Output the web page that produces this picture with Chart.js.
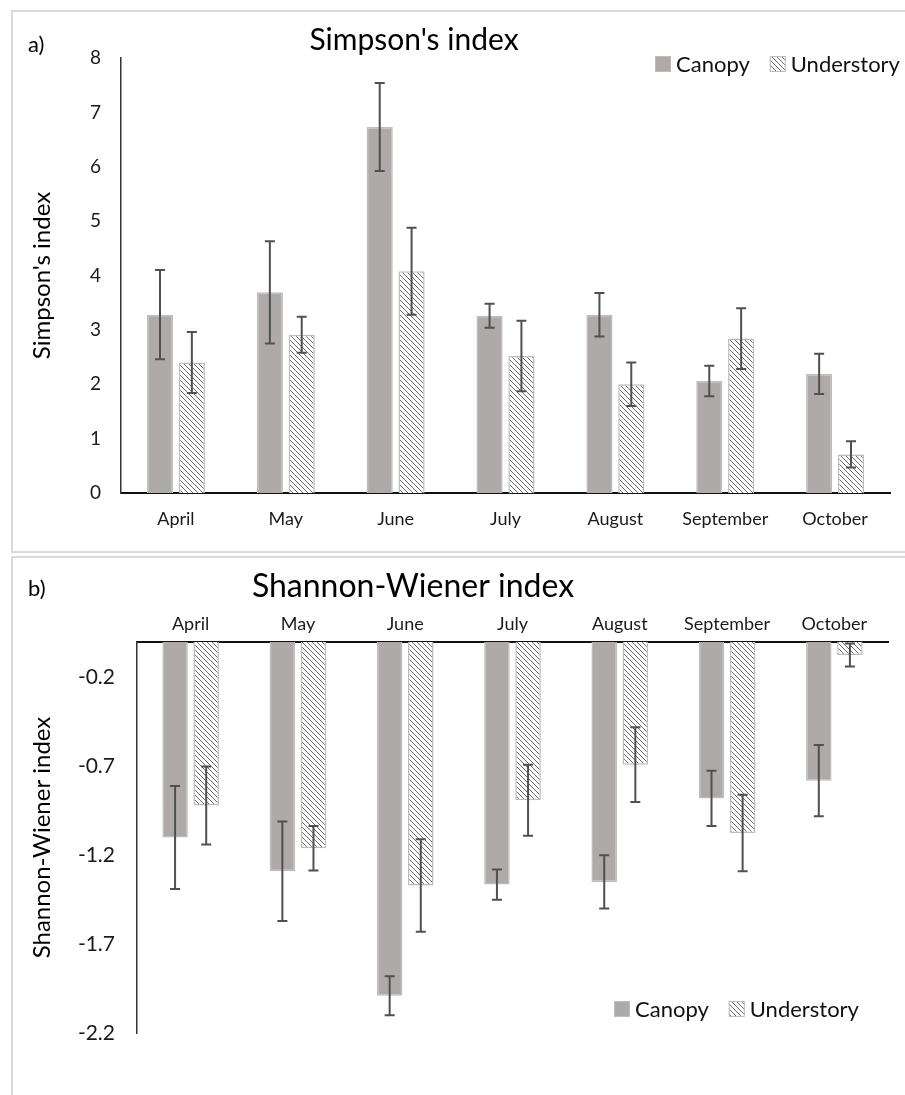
<!DOCTYPE html>
<html>
<head>
<meta charset="utf-8">
<script src="https://cdn.jsdelivr.net/npm/chart.js@4.4.0/dist/chart.umd.min.js"></script>
<style>
  body { margin: 0; background: #fff; width: 905px; height: 1095px; position: relative; overflow: hidden; }
  .panel { position: absolute; border: 2px solid #d9d9d9; box-sizing: border-box; }
  #panelA { left: 11px; top: 10px; width: 920px; height: 543px; }
  #panelB { left: 11px; top: 556px; width: 920px; height: 560px; }
  canvas { position: absolute; left: 0; }
  #chartA { top: 0; }
  #chartB { top: 555px; }
</style>
</head>
<body>
<div class="panel" id="panelA"></div>
<div class="panel" id="panelB"></div>
<canvas id="chartA" width="905" height="555"></canvas>
<canvas id="chartB" width="905" height="540"></canvas>
<script>
// months
const months = ['April', 'May', 'June', 'July', 'August', 'September', 'October'];

// a) Simpson's index
const simpsonCanopy = [3.28, 3.69, 6.73, 3.26, 3.28, 2.06, 2.19];
const simpsonCanopyErr = [0.82, 0.94, 0.81, 0.22, 0.40, 0.28, 0.37];
const simpsonUnder = [2.40, 2.91, 4.08, 2.52, 2.00, 2.84, 0.71];
const simpsonUnderErr = [0.56, 0.33, 0.80, 0.65, 0.40, 0.56, 0.24];
const simpsonTicks = [0, 1, 2, 3, 4, 5, 6, 7, 8];

// b) Shannon-Wiener index
const shannonCanopy = [-1.10, -1.29, -1.99, -1.365, -1.35, -0.88, -0.78];
const shannonCanopyErr = [0.29, 0.28, 0.11, 0.085, 0.15, 0.155, 0.20];
const shannonUnder = [-0.92, -1.16, -1.37, -0.89, -0.69, -1.075, -0.073];
const shannonUnderErr = [0.22, 0.125, 0.26, 0.20, 0.21, 0.215, 0.065];
const shannonTicks = [-2.2, -1.7, -1.2, -0.7, -0.2];

const FONT = 'Lato';
const canopyFill = '#aeaaaa';
const canopyLine = '#bfbcbc';
const underLine = '#bdbdbd';

function hatchFor(canvasId) {
  const n = 5;
  const c = document.createElement('canvas');
  c.width = n; c.height = n;
  const g = c.getContext('2d');
  g.fillStyle = '#fff';
  g.fillRect(0, 0, n, n);
  g.strokeStyle = '#6a6a6a';
  g.lineWidth = 1;
  g.beginPath();
  g.moveTo(0, 0); g.lineTo(n, n);
  g.moveTo(-n, 0); g.lineTo(n, 2 * n);
  g.moveTo(0, -n); g.lineTo(2 * n, n);
  g.stroke();
  return document.getElementById(canvasId).getContext('2d').createPattern(c, 'repeat');
}

// error bars drawn from each bar's position and the y scale
const errorBars = {
  id: 'errorBars',
  afterDatasetsDraw(chart) {
    const ctx = chart.ctx, y = chart.scales.y;
    chart.data.datasets.forEach((ds, d) => {
      chart.getDatasetMeta(d).data.forEach((bar, i) => {
        const v = ds.data[i], e = ds.errors[i];
        const t = y.getPixelForValue(v + e), b = y.getPixelForValue(v - e);
        ctx.save();
        ctx.strokeStyle = '#505050';
        ctx.lineWidth = 2;
        ctx.beginPath();
        ctx.moveTo(bar.x, t); ctx.lineTo(bar.x, b);
        ctx.moveTo(bar.x - 5, t); ctx.lineTo(bar.x + 5, t);
        ctx.moveTo(bar.x - 5, b); ctx.lineTo(bar.x + 5, b);
        ctx.stroke();
        ctx.restore();
      });
    });
  }
};

// panel letter, title and legend
const panelText = {
  id: 'panelText',
  afterDraw(chart, args, o) {
    const ctx = chart.ctx;
    ctx.save();
    ctx.fillStyle = '#000';
    ctx.textBaseline = 'middle';
    ctx.font = '22px ' + FONT;
    ctx.textAlign = 'left';
    ctx.fillText(o.letter, 28, o.letterY);
    ctx.font = o.titleSize + 'px ' + FONT;
    ctx.textAlign = 'center';
    ctx.fillText(o.title, o.titleX, o.titleY);
    // legend
    ctx.font = '22px ' + FONT;
    ctx.textAlign = 'left';
    let x = o.legendX;
    chart.data.datasets.forEach(ds => {
      ctx.fillStyle = ds.backgroundColor;
      ctx.fillRect(x, o.legendY - 8, 16, 16);
      ctx.strokeStyle = ds.borderColor;
      ctx.lineWidth = 1;
      ctx.strokeRect(x + 0.5, o.legendY - 7.5, 15, 15);
      ctx.fillStyle = '#111';
      ctx.fillText(ds.label, x + 21, o.legendY + 1);
      x += 21 + ctx.measureText(ds.label).width + 20;
    });
    ctx.restore();
  }
};

function datasets(canvasId, canopy, canopyErr, under, underErr) {
  return [
    { label: 'Canopy', data: canopy, errors: canopyErr, backgroundColor: canopyFill,
      borderColor: canopyLine, borderWidth: 1.5 },
    { label: 'Understory', data: under, errors: underErr, backgroundColor: hatchFor(canvasId),
      borderColor: underLine, borderWidth: 1.5 }
  ];
}

const tickFont = size => ({ family: FONT, size: size });

new Chart(document.getElementById('chartA'), {
  type: 'bar',
  data: { labels: months, datasets: datasets('chartA', simpsonCanopy, simpsonCanopyErr, simpsonUnder, simpsonUnderErr) },
  options: {
    responsive: false,
    animation: false,
    categoryPercentage: 0.58,
    barPercentage: 0.82,
    layout: { padding: { top: 58, right: 15, bottom: 0, left: 0 } },
    plugins: {
      legend: { display: false },
      tooltip: { enabled: false },
      panelText: { letter: 'a)', letterY: 45, title: "Simpson's index", titleSize: 30, titleX: 414, titleY: 40,
                   legendX: 655, legendY: 64 }
    },
    scales: {
      x: {
        grid: { display: false, drawTicks: false },
        border: { display: true, color: '#111', width: 2 },
        ticks: { padding: 15, color: '#1a1a1a', font: tickFont(18) },
        afterFit(s) { s.height = 62; }
      },
      y: {
        min: 0, max: 8,
        afterBuildTicks(s) { s.ticks = simpsonTicks.map(v => ({ value: v })); },
        grid: { display: false, drawTicks: false },
        border: { display: true, color: '#333', width: 1.5 },
        ticks: { padding: 20, color: '#1a1a1a', font: tickFont(19) },
        title: { display: true, text: "Simpson's index", color: '#000', font: tickFont(24), padding: { top: 28, bottom: 0 } },
        afterFit(s) { s.width = 121; }
      }
    }
  },
  plugins: [errorBars, panelText]
});

new Chart(document.getElementById('chartB'), {
  type: 'bar',
  data: { labels: months, datasets: datasets('chartB', shannonCanopy, shannonCanopyErr, shannonUnder, shannonUnderErr) },
  options: {
    responsive: false,
    animation: false,
    categoryPercentage: 0.58,
    barPercentage: 0.82,
    layout: { padding: { top: 0, right: 17, bottom: 62, left: 0 } },
    plugins: {
      legend: { display: false },
      tooltip: { enabled: false },
      panelText: { letter: 'b)', letterY: 34, title: 'Shannon-Wiener index', titleSize: 32, titleX: 413, titleY: 32,
                   legendX: 614, legendY: 454 }
    },
    scales: {
      x: {
        position: 'top',
        grid: { display: false, drawTicks: false },
        border: { display: true, color: '#111', width: 2 },
        ticks: { padding: 7, color: '#1a1a1a', font: tickFont(18) },
        afterFit(s) { s.height = 87; }
      },
      y: {
        min: -2.2, max: 0,
        afterBuildTicks(s) { s.ticks = shannonTicks.map(v => ({ value: v })); },
        grid: { display: false, drawTicks: false },
        border: { display: true, color: '#333', width: 1.5 },
        ticks: { padding: 22, color: '#1a1a1a', font: tickFont(21) },
        title: { display: true, text: 'Shannon-Wiener index', color: '#000', font: tickFont(24), padding: { top: 28, bottom: 0 } },
        afterFit(s) { s.width = 137; }
      }
    }
  },
  plugins: [errorBars, panelText]
});
</script>
</body>
</html>
